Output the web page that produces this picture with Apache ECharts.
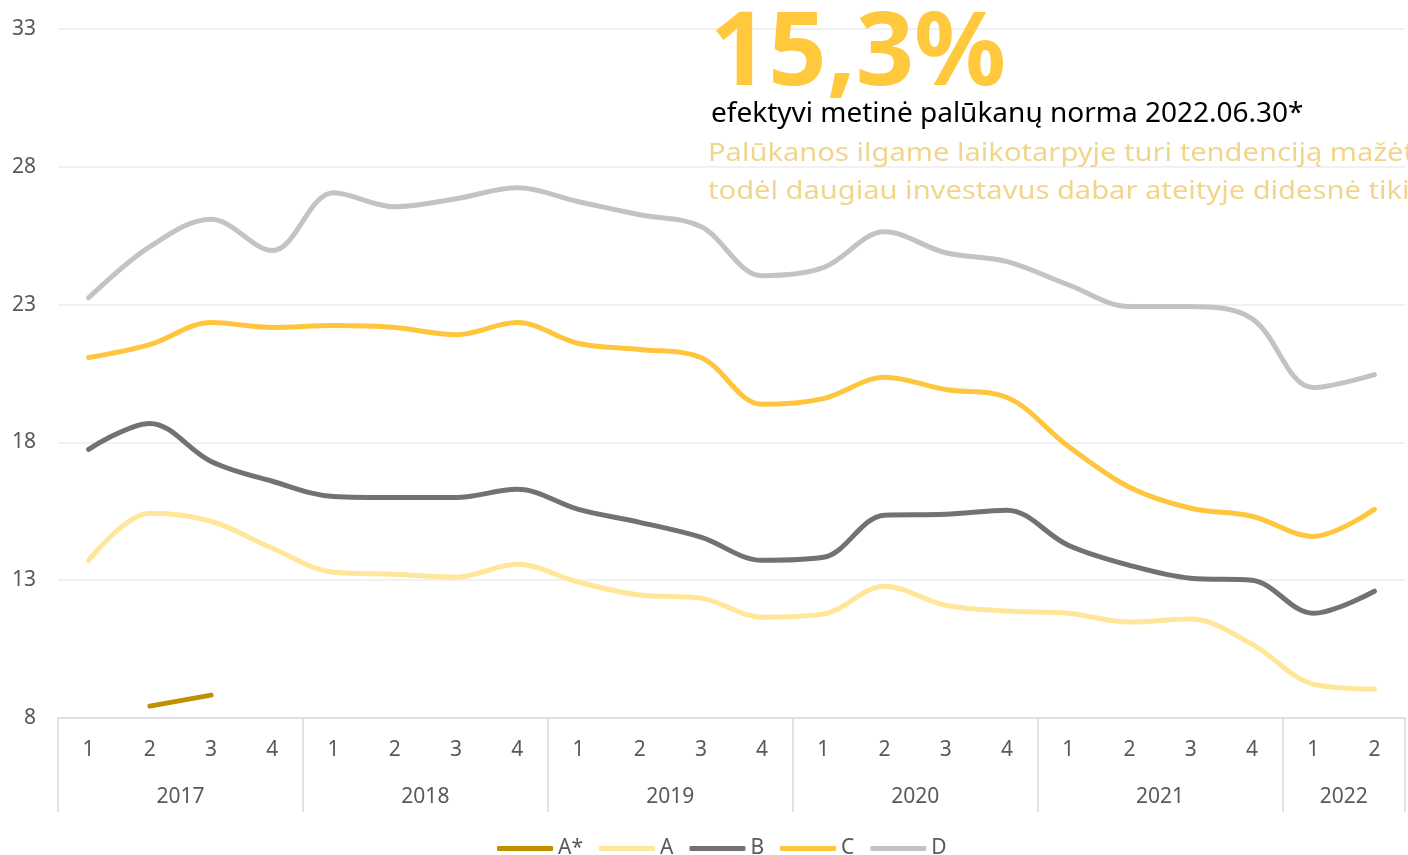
<!DOCTYPE html>
<html>
<head>
<meta charset="utf-8">
<script src="https://cdn.jsdelivr.net/npm/echarts@6/dist/echarts.min.js"></script>
<style>
  html, body { margin: 0; padding: 0; background: #ffffff; }
  #chart { width: 1408px; height: 855px; }
</style>
</head>
<body>
<div id="chart"></div>
<script>
var years = ['2017', '2018', '2019', '2020', '2021', '2022'];
var quartersPerYear = [4, 4, 4, 4, 4, 2];
var seriesNames = ['A*', 'A', 'B', 'C', 'D'];

var valuesAStar = [null, 8.43, 8.83, null, null, null, null, null, null, null, null, null, null, null, null, null, null, null, null, null, null, null];
var valuesA = [13.72, 15.43, 15.14, 14.16, 13.29, 13.22, 13.11, 13.58, 12.93, 12.46, 12.35, 11.66, 11.77, 12.78, 12.09, 11.88, 11.80, 11.48, 11.59, 10.68, 9.23, 9.05];
var valuesB = [17.75, 18.69, 17.31, 16.59, 16.04, 16.00, 16.00, 16.30, 15.57, 15.10, 14.56, 13.72, 13.83, 15.36, 15.39, 15.54, 14.27, 13.54, 13.07, 13.00, 11.80, 12.60];
var valuesC = [21.08, 21.55, 22.35, 22.17, 22.24, 22.17, 21.91, 22.35, 21.59, 21.37, 21.08, 19.38, 19.59, 20.36, 19.92, 19.63, 17.86, 16.37, 15.61, 15.32, 14.59, 15.57];
var valuesD = [23.25, 25.10, 26.10, 24.96, 27.06, 26.55, 26.84, 27.24, 26.73, 26.26, 25.83, 24.05, 24.34, 25.64, 24.88, 24.56, 23.72, 22.93, 22.93, 22.49, 19.99, 20.46];

var headline = '15,3%';
var subtitle = 'efektyvi metinė palūkanų norma 2022.06.30*';
var noteLine1 = 'Palūkanos ilgame laikotarpyje turi tendenciją mažėti,';
var noteLine2 = 'todėl daugiau investavus dabar ateityje didesnė tikimybė';

var yMin = 8, yMax = 33, yStep = 5;

// category labels (quarter numbers) and year-boundary flags
var quarterLabels = [];
var yearStartIdx = {};
var idx = 0;
years.forEach(function (y, i) {
  yearStartIdx[idx] = true;
  for (var q = 1; q <= quartersPerYear[i]; q++) { quarterLabels.push(String(q)); idx++; }
});
// half-step axis for centered year labels
var halfSlots = [];
for (var k = 0; k <= quarterLabels.length * 2; k++) halfSlots.push('');
var pos = 0;
years.forEach(function (y, i) {
  halfSlots[pos + quartersPerYear[i]] = y;
  pos += quartersPerYear[i] * 2;
});

var colors = ['#BF9000', '#FFE699', '#767171', '#FFC53D', '#C3C3C3'];
var dataSets = [valuesAStar, valuesA, valuesB, valuesC, valuesD];

var chart = echarts.init(document.getElementById('chart'), null, { renderer: 'canvas' });
var font = '"Noto Sans", "Open Sans", sans-serif';
var labelColor = '#595959';

var option = {
  backgroundColor: '#ffffff',
  animation: false,
  color: colors,
  textStyle: { fontFamily: font },
  grid: { left: 58, top: 29, width: 1354, height: 689, containLabel: false },
  legend: {
    top: 833,
    left: 492,
    icon: 'roundRect',
    itemWidth: 56,
    itemHeight: 5,
    itemGap: 16,
    textStyle: { color: labelColor, fontSize: 21, fontFamily: font },
    data: seriesNames
  },
  xAxis: [
    {
      type: 'category',
      data: quarterLabels,
      boundaryGap: true,
      axisLine: { show: true, lineStyle: { color: '#D9D9D9', width: 1.5 } },
      axisTick: {
        show: true,
        length: 94,
        interval: function (i) { return !!yearStartIdx[i]; },
        lineStyle: { color: '#D9D9D9', width: 1.5 }
      },
      axisLabel: { color: labelColor, fontSize: 21, margin: 22, interval: 0, fontFamily: font },
      splitLine: { show: false }
    },
    {
      type: 'category',
      data: halfSlots,
      boundaryGap: false,
      position: 'bottom',
      axisLine: { show: false },
      axisTick: { show: false },
      axisLabel: { color: labelColor, fontSize: 21, margin: 69, interval: 0, fontFamily: font },
      splitLine: { show: false }
    }
  ],
  yAxis: {
    type: 'value',
    min: yMin,
    max: yMax,
    interval: yStep,
    axisLine: { show: false },
    axisTick: { show: false },
    axisLabel: { color: labelColor, fontSize: 21, margin: 22, fontFamily: font },
    splitLine: { lineStyle: { color: '#EDEDED', width: 1.5 } }
  },
  series: seriesNames.map(function (name, i) {
    return {
      name: name,
      type: 'line',
      xAxisIndex: 0,
      data: dataSets[i],
      smooth: i === 0 ? false : 0.35,
      showSymbol: false,
      symbol: 'none',
      connectNulls: false,
      lineStyle: { width: 5, color: colors[i], cap: 'round', join: 'round' },
      itemStyle: { color: colors[i] },
      z: 2 + i
    };
  }),
  graphic: [
    {
      type: 'text', left: 710, top: 5, z: 10,
      style: { text: headline, fill: '#FFC83D', font: 'bold 102px ' + font }
    },
    {
      type: 'text', left: 711, top: 100, z: 10,
      style: { text: subtitle, fill: '#000000', font: '28px ' + font }
    },
    {
      type: 'text', x: 708, y: 141, scaleX: 1.12, z: 10,
      style: { text: noteLine1, fill: '#F0D68C', font: '26px ' + font }
    },
    {
      type: 'text', x: 708, y: 179, scaleX: 1.12, z: 10,
      style: { text: noteLine2, fill: '#F0D68C', font: '26px ' + font }
    }
  ]
};
chart.setOption(option);
</script>
</body>
</html>
